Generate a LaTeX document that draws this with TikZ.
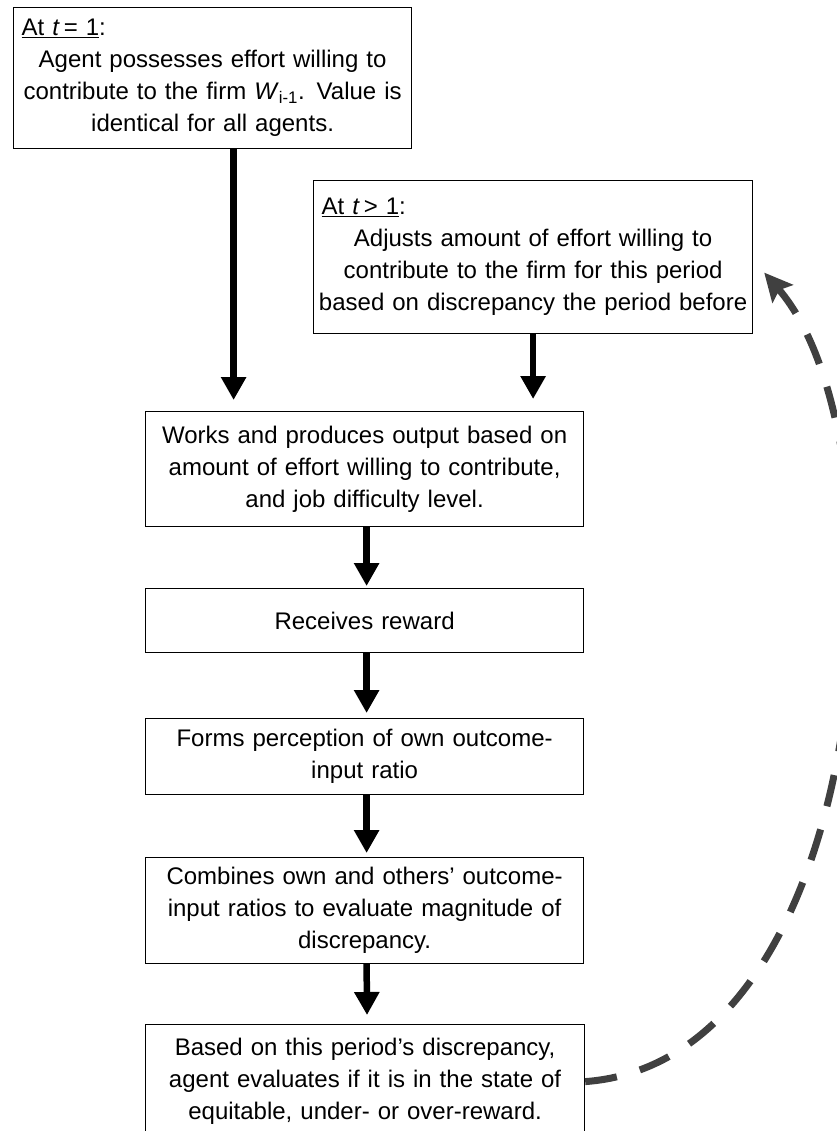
\documentclass[tikz,border=0pt]{standalone}
\usepackage{fontspec}
\setmainfont{Liberation Sans}
\usetikzlibrary{arrows.meta,calc}
\definecolor{fbgray}{HTML}{404040}
\begin{document}
\begin{tikzpicture}[x=1pt,y=-1pt,
  box/.style={draw=black,line width=1.2pt,anchor=north west,inner xsep=3pt,inner ysep=0pt,
    align=center,font=\fontsize{24}{32}\selectfont},
  flow/.style={line width=6.5pt,-{Triangle[length=23pt,width=24pt]}},
  feedback/.style={draw=fbgray,line width=7pt,dash pattern=on 32pt off 24pt,
    -{Stealth[length=28pt,width=27pt,inset=5pt]}}]
\useasboundingbox (0,0) rectangle (836,1131);

\node[box,minimum width=398pt,minimum height=141pt,text width=392pt] (b1) at (13,7)
  {\makebox[\linewidth][l]{\hspace*{5pt}\underline{At \textit{t}\,= 1}:}\\
   Agent possesses effort willing to\\
   contribute to the firm \textit{W}\textsubscript{i-1}. Value is\\
   identical for all agents.};

\node[box,minimum width=439pt,minimum height=153pt,text width=433pt] (b2) at (313,180)
  {\makebox[\linewidth][l]{\hspace*{5pt}\underline{At \textit{t}\,> 1}:}\\
   Adjusts amount of effort willing to\\
   contribute to the firm for this period\\
   based on discrepancy the period before};

\node[box,minimum width=438pt,minimum height=115pt,text width=432pt] (b3) at (145,411)
  {Works and produces output based on\\
   amount of effort willing to contribute,\\
   and job difficulty level.};

\node[box,minimum width=438pt,minimum height=64pt,text width=432pt] (b4) at (145,588)
  {Receives reward};

\node[box,minimum width=438pt,minimum height=76pt,text width=432pt] (b5) at (145,718)
  {Forms perception of own outcome-\\
   input ratio};

\node[box,minimum width=438pt,minimum height=106pt,text width=432pt] (b6) at (145,857)
  {Combines own and others’ outcome-\\
   input ratios to evaluate magnitude of\\
   discrepancy.};

\node[box,minimum width=439pt,minimum height=114pt,text width=433pt] (b7) at (145,1024)
  {Based on this period’s discrepancy,\\
   agent evaluates if it is in the state of\\
   equitable, under- or over-reward.};

\coordinate (a1s) at ([xshift=21pt]b1.south);
\draw[flow,shorten >=11pt] (a1s) -- (a1s |- b3.north);
\draw[flow,shorten >=12pt] (b2.south) -- (b2.south |- b3.north);
\draw[flow,shorten >=2pt] ([xshift=2pt]b3.south) -- ([xshift=2pt]b4.north);
\draw[flow,shorten >=5pt] ([xshift=2pt]b4.south) -- ([xshift=2pt]b5.north);
\draw[flow,shorten >=4pt] ([xshift=2pt]b5.south) -- ([xshift=2pt]b6.north);
\draw[flow,shorten >=9pt] ([xshift=2pt]b6.south) -- ([xshift=2pt]b7.north);

\coordinate (fbend) at ($(b2.east)+(11,15.5)$);
\draw[feedback] (b7.east) .. controls (880,1060) and (910,440) .. (fbend);
\end{tikzpicture}
\end{document}
